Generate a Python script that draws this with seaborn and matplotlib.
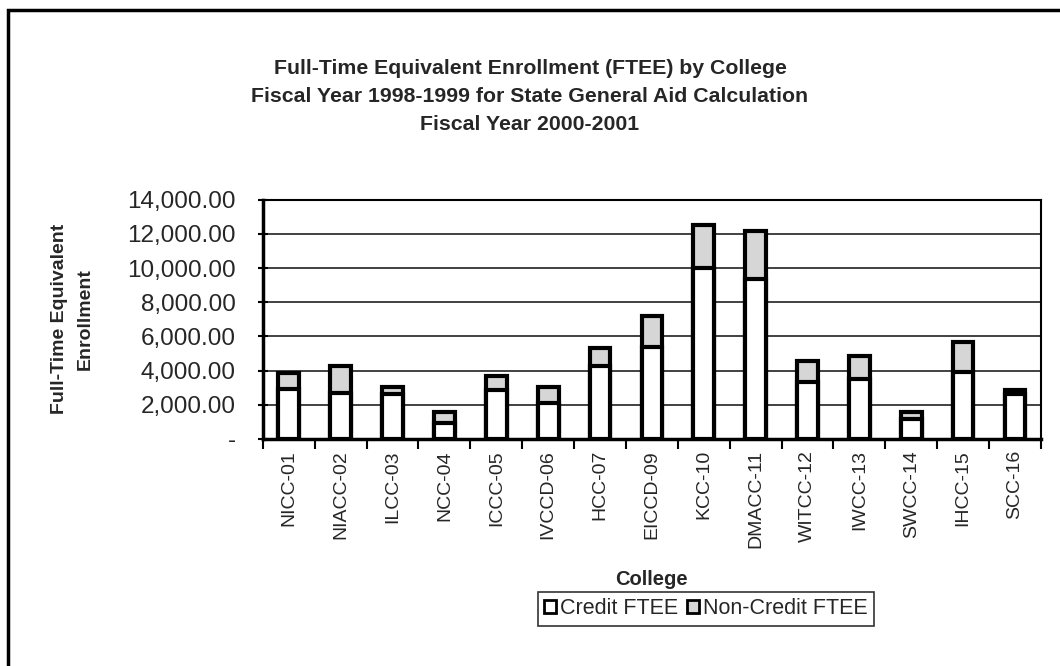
import pandas as pd
import matplotlib.pyplot as plt
import matplotlib.patches as mpatches
from matplotlib.ticker import FuncFormatter, FixedLocator
import seaborn as sns

# values
colleges = ["NICC-01", "NIACC-02", "ILCC-03", "NCC-04", "ICCC-05", "IVCCD-06", "HCC-07",
            "EICCD-09", "KCC-10", "DMACC-11", "WITCC-12", "IWCC-13", "SWCC-14", "IHCC-15", "SCC-16"]
credit_ftee = [2900, 2700, 2600, 950, 2850, 2100, 4250, 5400, 10000, 9350, 3350, 3500, 1150, 3900, 2600]
noncredit_ftee = [950, 1550, 450, 600, 850, 950, 1050, 1800, 2550, 2850, 1200, 1350, 400, 1750, 250]

sns.set_theme(style="white")
plt.rcParams['font.family'] = ['Liberation Sans', 'DejaVu Sans']

df = pd.DataFrame({"college": colleges, "credit": credit_ftee, "noncredit": noncredit_ftee})
df["stack_top"] = df["credit"] + df["noncredit"]

fig = plt.figure(figsize=(10.6, 6.66), dpi=100)
ax = fig.add_axes([0.248, 0.341, 0.734, 0.359])

# outer chart border (scan shows left and top edges)
fig.patches.append(mpatches.Rectangle((8 / 1060, -0.05), 1.2, (666 - 10) / 666 + 0.05,
                                      transform=fig.transFigure, fill=False,
                                      edgecolor="black", linewidth=2.5, zorder=0))

edge_kw = dict(edgecolor="black", linewidth=3, saturation=1, width=0.4, zorder=3)
sns.barplot(data=df, x="college", y="stack_top", color="#d6d6d6", ax=ax, **edge_kw)
sns.barplot(data=df, x="college", y="credit", color="white", ax=ax, **edge_kw)

ax.set_ylim(0, 14000)
ax.set_xlim(-0.5, len(colleges) - 0.5)
ax.yaxis.set_major_locator(FixedLocator(range(0, 14001, 2000)))
ax.yaxis.set_major_formatter(FuncFormatter(lambda v, p: "-" if v == 0 else f"{v:,.2f}"))
ax.grid(axis="y", color="#333333", linewidth=1.3, zorder=0)
ax.set_axisbelow(True)

for s in ax.spines.values():
    s.set_color("black")
    s.set_linewidth(1.5)
ax.spines["left"].set_linewidth(2.5)
ax.spines["bottom"].set_linewidth(2.5)

# ticks between categories like the spreadsheet chart
ax.xaxis.set_minor_locator(FixedLocator([i - 0.5 for i in range(len(colleges) + 1)]))
ax.tick_params(axis="x", which="major", length=0, pad=8)
ax.tick_params(axis="x", which="minor", length=7, width=1.5, direction="out", color="black", bottom=True)
ax.tick_params(axis="y", which="major", length=7, width=1.5, direction="inout", color="black", left=True,
               labelsize=17.5, pad=16)
for lbl in ax.get_xticklabels():
    lbl.set_rotation(90)
    lbl.set_fontfamily(['Liberation Sans Narrow', 'Liberation Sans'])
    lbl.set_fontsize(14)

ax.set_xlabel("College", fontsize=14.5, fontweight="bold", labelpad=16)
ax.set_ylabel("Full-Time Equivalent\nEnrollment", fontsize=14, fontweight="bold", labelpad=24,
              linespacing=1.7)

fig.text(0.5, 1 - 96 / 666, "Full-Time Equivalent Enrollment (FTEE) by College\n"
         "Fiscal Year 1998-1999 for State General Aid Calculation\nFiscal Year 2000-2001",
         ha="center", va="center", fontsize=15.3, fontweight="bold", linespacing=1.6)

handles = [mpatches.Patch(facecolor="white", edgecolor="black", linewidth=2, label="Credit FTEE"),
           mpatches.Patch(facecolor="#d6d6d6", edgecolor="black", linewidth=2, label="Non-Credit FTEE")]
leg = fig.legend(handles=handles, loc="center", bbox_to_anchor=(706 / 1060, 1 - 609 / 666), ncol=2,
                 fontsize=15.5, frameon=True, fancybox=False, handlelength=0.55, handleheight=0.55,
                 handletextpad=0.2, columnspacing=0.4, borderpad=0.3)
leg.get_frame().set_edgecolor("black")
leg.get_frame().set_linewidth(1.2)

fig.savefig("out.png", dpi=100)
